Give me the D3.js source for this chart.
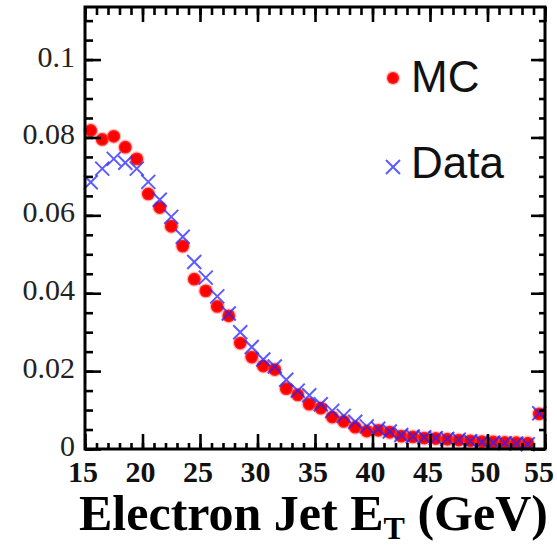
<!DOCTYPE html>
<html>
<head>
<meta charset="utf-8">
<script src="https://cdn.jsdelivr.net/npm/d3@7"></script>
<style>
  html, body { margin: 0; padding: 0; background: #fff; }
  svg { display: block; }
</style>
</head>
<body>
<svg id="chart" width="557" height="545"></svg>
<script>
// Electron jet ET spectrum, 1 GeV bins from 15 to 55 GeV (last bin holds overflow)
const binCenters = d3.range(40).map(i => 15.5 + i);

const mcValues = [
  0.0818, 0.0795, 0.0803, 0.0775, 0.0745, 0.0655, 0.0620, 0.0572, 0.0521, 0.0436,
  0.0406, 0.0366, 0.0342, 0.0272, 0.0236, 0.0213, 0.0204, 0.0155, 0.0139, 0.0115,
  0.0105, 0.0082, 0.0071, 0.0056, 0.0046, 0.0048, 0.0043, 0.0033, 0.0031, 0.0028,
  0.0027, 0.0025, 0.0023, 0.0021, 0.0019, 0.0018, 0.0017, 0.0016, 0.0015, 0.0090
];

const dataValues = [
  0.0685, 0.0720, 0.0745, 0.0735, 0.0720, 0.0686, 0.0640, 0.0596, 0.0545, 0.0480,
  0.0440, 0.0392, 0.0348, 0.0300, 0.0262, 0.0230, 0.0212, 0.0178, 0.0150, 0.0138,
  0.0115, 0.0098, 0.0085, 0.0070, 0.0058, 0.0052, 0.0045, 0.0036, 0.0032, 0.0030,
  0.0028, 0.0026, 0.0024, 0.0020, 0.0018, 0.0016, 0.0015, 0.0014, 0.0012, 0.0092
];

const xTickValues = [15, 20, 25, 30, 35, 40, 45, 50, 55];
const yTickValues = [0, 0.02, 0.04, 0.06, 0.08, 0.1];
const yTickLabels = ["0", "0.02", "0.04", "0.06", "0.08", "0.1"];
const seriesNames = ["MC", "Data"];

const svg = d3.select("#chart");
const plotLeft = 85, plotRight = 545, plotTop = 7, plotBottom = 449;

const x = d3.scaleLinear().domain([15, 55]).range([plotLeft, plotRight]);
const y = d3.scaleLinear().domain([0, 0.1135]).range([plotBottom, plotTop]);

// ---- markers ----
const gMarks = svg.append("g");

gMarks.selectAll("circle.mc")
  .data(binCenters.map((c, i) => [c, mcValues[i]]))
  .join("circle")
  .attr("class", "mc")
  .attr("cx", d => x(d[0]))
  .attr("cy", d => y(d[1]))
  .attr("r", 6.4)
  .attr("fill", "#ff0000")
  .attr("stroke", "rgba(255,90,90,0.35)")
  .attr("stroke-width", 2.5);

const xs = 7;
function crossPath(cx, cy, s) {
  return `M${cx - s},${cy - s}L${cx + s},${cy + s}M${cx - s},${cy + s}L${cx + s},${cy - s}`;
}
gMarks.selectAll("path.data")
  .data(binCenters.map((c, i) => [c, dataValues[i]]))
  .join("path")
  .attr("class", "data")
  .attr("d", d => crossPath(x(d[0]), y(d[1]), xs))
  .attr("fill", "none")
  .attr("stroke", "#2424ff")
  .attr("stroke-opacity", 0.75)
  .attr("stroke-width", 2);

// ---- frame and ticks ----
const gAxes = svg.append("g");

const bottomAxis = d3.axisBottom(x).tickValues(xTickValues).tickFormat("").tickSize(-15).tickSizeOuter(0);
const bottomMinor = d3.axisBottom(x).tickValues(d3.range(15, 56, 1)).tickFormat("").tickSize(-6).tickSizeOuter(0);
const topAxis = d3.axisTop(x).tickValues(xTickValues).tickFormat("").tickSize(-15).tickSizeOuter(0);
const topMinor = d3.axisTop(x).tickValues(d3.range(15, 56, 1)).tickFormat("").tickSize(-8).tickSizeOuter(0);

const yMinorVals = d3.range(0, 0.1135, 0.005);
const leftAxis = d3.axisLeft(y).tickValues(yTickValues).tickFormat("").tickSize(-16).tickSizeOuter(0);
const leftMinor = d3.axisLeft(y).tickValues(yMinorVals).tickFormat("").tickSize(-8).tickSizeOuter(0);
const rightAxis = d3.axisRight(y).tickValues(yTickValues).tickFormat("").tickSize(-14).tickSizeOuter(0);
const rightMinor = d3.axisRight(y).tickValues(yMinorVals).tickFormat("").tickSize(-6).tickSizeOuter(0);

[[bottomAxis, `translate(0,${plotBottom})`], [bottomMinor, `translate(0,${plotBottom})`],
 [topAxis, `translate(0,${plotTop})`], [topMinor, `translate(0,${plotTop})`],
 [leftAxis, `translate(${plotLeft},0)`], [leftMinor, `translate(${plotLeft},0)`],
 [rightAxis, `translate(${plotRight},0)`], [rightMinor, `translate(${plotRight},0)`]]
  .forEach(([ax, tr]) => {
    const g = gAxes.append("g").attr("transform", tr).call(ax);
    g.select(".domain").remove();
    g.selectAll("line").attr("stroke", "#000").attr("stroke-width", 2.6);
  });

gAxes.append("rect")
  .attr("x", plotLeft).attr("y", plotTop)
  .attr("width", plotRight - plotLeft).attr("height", plotBottom - plotTop)
  .attr("fill", "none").attr("stroke", "#000").attr("stroke-width", 3);

// ---- tick labels ----
// x labels are centred under their ticks, but kept inside the right edge
svg.append("g").selectAll("text")
  .data(xTickValues)
  .join("text")
  .attr("y", 482)
  .attr("text-anchor", "start")
  .attr("font-family", "Liberation Serif, serif")
  .attr("font-weight", "bold")
  .attr("font-size", 30)
  .attr("fill", "#111")
  .text(d => d)
  .attr("x", function (d) {
    const w = this.getComputedTextLength();
    return Math.min(x(d) - 2 - w / 2, 554 - w);
  });

svg.append("g").selectAll("text")
  .data(yTickValues)
  .join("text")
  .attr("x", 75)
  .attr("y", d => y(d) + 7)
  .attr("text-anchor", "end")
  .attr("font-family", "Liberation Serif, serif")
  .attr("font-size", 30)
  .attr("fill", "#222")
  .text((d, i) => yTickLabels[i]);

// ---- axis title ----
const title = svg.append("text")
  .attr("x", 79)
  .attr("y", 530)
  .attr("font-family", "Liberation Serif, serif")
  .attr("font-weight", "bold")
  .attr("font-size", 50)
  .attr("fill", "#000");
title.append("tspan").text("Electron Jet E");
title.append("tspan").attr("font-size", 32).attr("dy", 9).text("T");
title.append("tspan").attr("dy", -9).text(" (GeV)");

// ---- legend ----
const legend = svg.append("g");
legend.append("circle")
  .attr("cx", 393).attr("cy", 78).attr("r", 6)
  .attr("fill", "#ff0000")
  .attr("stroke", "rgba(255,90,90,0.35)").attr("stroke-width", 2.5);
legend.append("path")
  .attr("d", crossPath(393, 167, 7))
  .attr("fill", "none").attr("stroke", "#2424ff")
  .attr("stroke-opacity", 0.75).attr("stroke-width", 2);
legend.selectAll("text")
  .data(seriesNames)
  .join("text")
  .attr("x", 411)
  .attr("y", (d, i) => i === 0 ? 92 : 178)
  .attr("font-family", "Liberation Sans, Arial, sans-serif")
  .attr("font-size", 44)
  .attr("fill", "#111")
  .text(d => d);
</script>
</body>
</html>
